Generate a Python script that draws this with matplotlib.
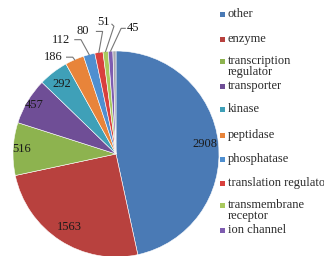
import matplotlib
matplotlib.use("Agg")
import matplotlib.pyplot as plt
import numpy as np
from matplotlib.patches import Rectangle

categories = ["other", "enzyme", "transcription\nregulator", "transporter", "kinase",
              "peptidase", "phosphatase", "translation regulator",
              "transmembrane\nreceptor", "ion channel"]
values = [2908, 1563, 516, 457, 292, 186, 112, 80, 51, 45]
colors = ["#4A7AB5", "#B8413E", "#8DB34F", "#6F4E96", "#3FA0B8", "#E8843A",
          "#4F8FD0", "#D9403D", "#A9C95E", "#7E5CB0"]
# thin unlabeled grey sliver visible at the top of the pie
extra_value = 30
extra_color = "#A8A8B0"

serif = "Liberation Serif"
W, H = 324, 256
fig = plt.figure(figsize=(W / 100, H / 100), dpi=100)
cx, cy, R = 116, 154, 103
ax = fig.add_axes([(cx - R) / W, 1 - (cy + R) / H, 2 * R / W, 2 * R / H])

all_vals = values + [extra_value]
all_cols = colors + [extra_color]
wedges, _ = ax.pie(all_vals, colors=all_cols, startangle=90, counterclock=False,
                   wedgeprops=dict(edgecolor="white", linewidth=0.4))
ax.set_xlim(-1, 1)
ax.set_ylim(-1, 1)
ax.set_aspect("equal")
ax.axis("off")

tc = "#1a1a1a"
# inside labels for large slices
for i in range(5):
    w = wedges[i]
    ang = np.deg2rad((w.theta1 + w.theta2) / 2)
    r = [0.87, 0.84, 0.92, 0.92, 0.86][i]
    ax.text(r * np.cos(ang), r * np.sin(ang), str(values[i]), ha="center", va="center",
            fontsize=9, family=serif, color=tc)

# outside labels with leader lines
text_pos = {5: (-0.61, 0.94), 6: (-0.53, 1.11), 7: (-0.32, 1.19), 8: (-0.12, 1.28), 9: (0.10, 1.22)}
lc = "#777777"
for i, (tx, ty) in text_pos.items():
    w = wedges[i]
    ang = np.deg2rad((w.theta1 + w.theta2) / 2)
    ex, ey = 1.0 * np.cos(ang), 1.0 * np.sin(ang)
    if i == 9:
        ax.text(tx, ty, str(values[i]), ha="left", va="center", fontsize=9,
                family=serif, color=tc)
        ax.plot([tx - 0.01, tx - 0.05, ex], [ty, ty, ey], color=lc, lw=0.8,
                clip_on=False)
    elif i == 8:
        ax.text(tx, ty, str(values[i]), ha="center", va="center", fontsize=9,
                family=serif, color=tc)
        ax.plot([tx + 0.08, tx + 0.1, ex], [ty - 0.02, ty - 0.04, ey], color=lc,
                lw=0.8, clip_on=False)
    else:
        ax.text(tx, ty, str(values[i]), ha="center", va="center", fontsize=9,
                family=serif, color=tc)
        sx = tx + 0.13
        ax.plot([sx, sx + 0.06, ex], [ty, ty, ey], color=lc, lw=0.8,
                clip_on=False)

# legend drawn manually
ys = [15, 40, 62, 87, 110, 136, 160, 184, 206, 231]
for lab, col, y in zip(categories, colors, ys):
    fig.add_artist(Rectangle((220 / W, 1 - (y + 2) / H), 5 / W, 5 / H,
                             transform=fig.transFigure, facecolor=col, edgecolor="none"))
    fig.text(228 / W, 1 - (y - 7) / H, lab, ha="left", va="top", fontsize=9,
             family=serif, color="#2a2a2a", linespacing=0.9)

fig.savefig("out.png", dpi=100, facecolor="white")
